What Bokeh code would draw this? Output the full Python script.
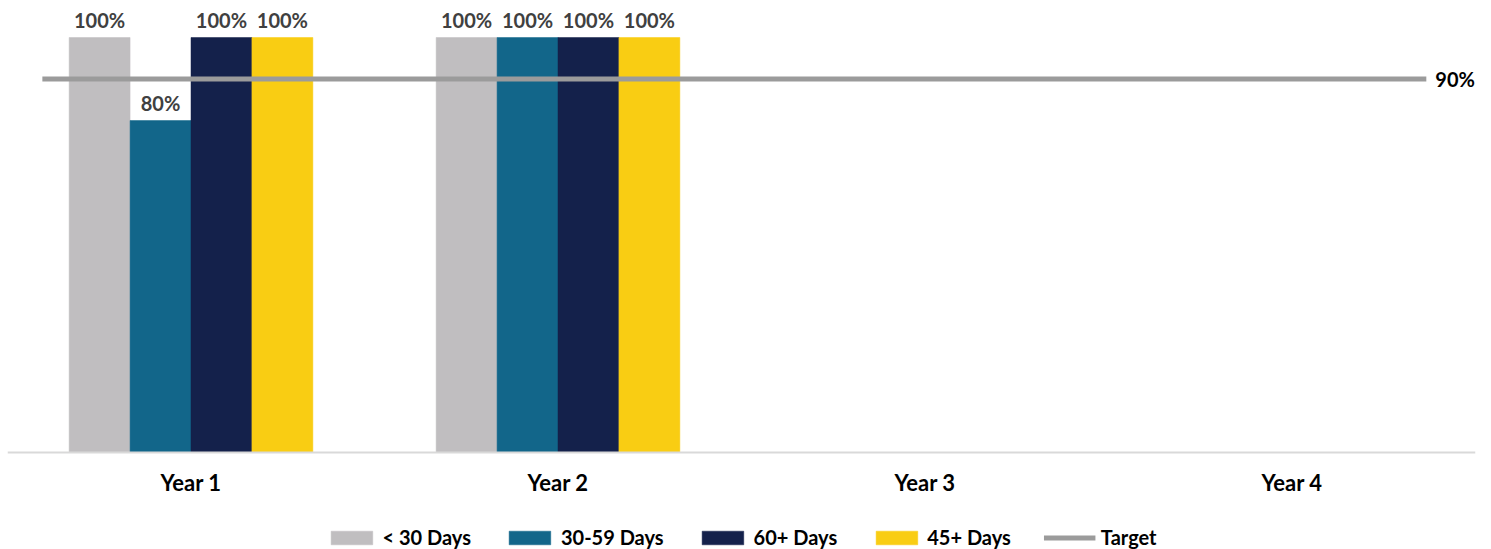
from bokeh.plotting import figure
from bokeh.models import (Range1d, ColumnDataSource, LabelSet, Label, Span,
                          Legend, LegendItem)
from bokeh.core.properties import value
from bokeh.transform import dodge
from bokeh.embed import file_html
from bokeh.resources import INLINE

# ---- data ----
categories = ["Year 1", "Year 2", "Year 3", "Year 4"]
series_names = ["< 30 Days", "30-59 Days", "60+ Days", "45+ Days"]
under_30 = [100, 100, None, None]
days_30_59 = [80, 100, None, None]
days_60_plus = [100, 100, None, None]
days_45_plus = [100, 100, None, None]
target_value = 90
target_name = "Target"

series_values = [under_30, days_30_59, days_60_plus, days_45_plus]
colors = ["#C0BEC0", "#12668A", "#14214B", "#F9CD13"]
target_color = "#9B9B9B"
label_color = "#404040"
FONT = "Lato"

centers = [i + 0.5 for i in range(len(categories))]
bar_w = 0.166

# the frame fills the page; the space under zero holds category names and legend
p = figure(width=1491, height=549, output_backend="svg", toolbar_location=None,
           x_range=Range1d(0, len(categories)), y_range=Range1d(-23.37, 108.92),
           min_border_left=7, min_border_right=16, min_border_top=0,
           min_border_bottom=0)
p.outline_line_color = None
p.xgrid.visible = False
p.ygrid.visible = False
p.xaxis.visible = False
p.yaxis.visible = False

legend_items = []
for k, (name, vals, col) in enumerate(zip(series_names, series_values, colors)):
    xs = [c for c, v in zip(centers, vals) if v is not None]
    ys = [v for v in vals if v is not None]
    src = ColumnDataSource(dict(x=xs, top=ys, txt=[f"{v}%" for v in ys]))
    off = (k - 1.5) * bar_w
    r = p.vbar(x=dodge("x", off), top="top", bottom=0, width=bar_w, source=src,
               fill_color=col, line_color=col, line_width=0.5)
    legend_items.append(LegendItem(label=name, renderers=[r]))
    p.add_layout(LabelSet(x=dodge("x", off), y="top", text="txt", source=src,
                          text_align="center", text_baseline="alphabetic",
                          y_offset=10, text_font=value(FONT),
                          text_font_style=value("bold"),
                          text_font_size=value("20px"),
                          text_color=value(label_color)))

# category baseline and names
p.add_layout(Span(location=0, dimension="width", line_color="#D9D9D9",
                  line_width=2))
cat_src = ColumnDataSource(dict(x=centers, y=[0] * len(categories),
                                name=categories))
p.add_layout(LabelSet(x="x", y="y", text="name", source=cat_src, y_offset=-30,
                      text_align="center", text_baseline="middle",
                      text_font=value(FONT), text_font_style=value("bold"),
                      text_font_size=value("22px"), text_color=value("#000000")))

# target line across the categories
t_start, t_end = 0.095, 3.866
tr = p.line(x=[t_start, t_end], y=[target_value, target_value],
            line_color=target_color, line_width=5)
legend_items.append(LegendItem(label=target_name, renderers=[tr]))
p.add_layout(Label(x=t_end, y=target_value, text=f"{target_value}%", x_offset=9,
                   text_baseline="middle", text_font=FONT, text_font_style="bold",
                   text_font_size="20px", text_color="#000000"))

legend = Legend(items=legend_items, orientation="horizontal",
                location="bottom_center",
                glyph_width=52, glyph_height=17, label_standoff=5, spacing=33,
                label_text_font=FONT, label_text_font_style="bold",
                label_text_font_size="20px", label_text_color="#000000",
                border_line_color=None, background_fill_alpha=0,
                margin=0, padding=2)
p.add_layout(legend)

open("out.html", "w").write(file_html(p, INLINE))
